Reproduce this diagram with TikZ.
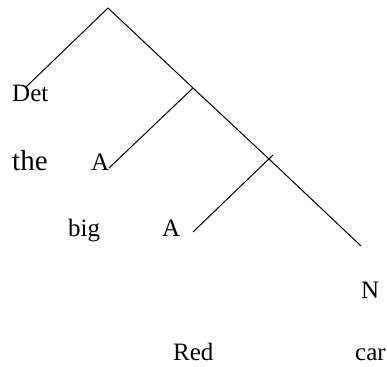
\documentclass[tikz,border=0pt]{standalone}
\usepackage{fontspec}
\setmainfont{Liberation Serif}
\begin{document}
\begin{tikzpicture}[x=1pt,y=-1pt,
  edge/.style={draw=black, line width=1pt},
  lbl/.style={inner sep=0pt, anchor=base west, font=\fontsize{25}{30}\selectfont},
  lbllarge/.style={inner sep=0pt, anchor=base west, font=\fontsize{29}{34}\selectfont}]
\useasboundingbox (0,0) rectangle (387,366);
% tree points
\coordinate (root) at (108,8);
\coordinate (detend) at (26,87);
\coordinate (j1) at (193,88);
\coordinate (a1end) at (109,168);
\coordinate (j2) at (269,159);
\coordinate (j2top) at (273,155);
\coordinate (a2end) at (193,232);
\coordinate (nend) at (361,246);
% branches
\draw[edge] (root) -- (detend);
\draw[edge] (root) -- (j1) -- (j2) -- (nend);
\draw[edge] (j1) -- (a1end);
\draw[edge] (j2top) -- (a2end);
% labels
\node[lbl] (det) at (12,102) {Det};
\node[lbllarge] (the) at (12,170) {the};
\node[lbl] (a1) at (91,170) {A};
\node[lbl] (bigw) at (68,236) {big};
\node[lbl] (a2) at (162,236) {A};
\node[lbl] (n) at (361,298) {N};
\node[lbl] (red) at (173,360) {Red};
\node[lbl] (car) at (355,360) {car};
\end{tikzpicture}
\end{document}
